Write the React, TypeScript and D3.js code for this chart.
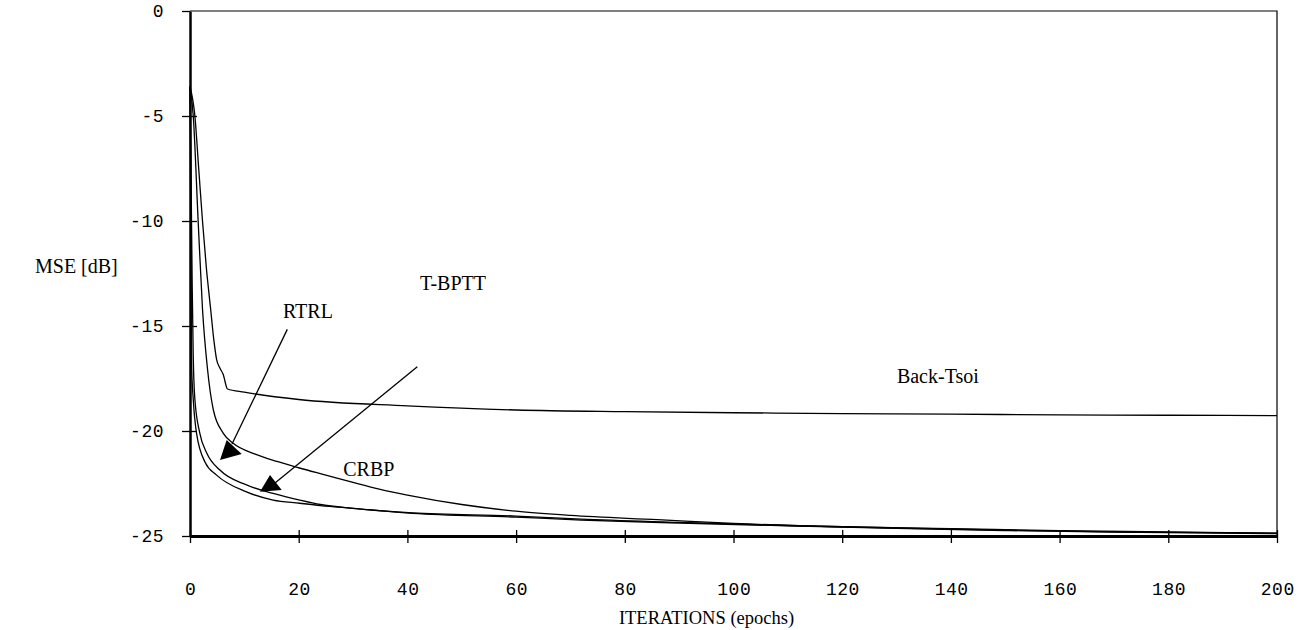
import { useEffect, useRef } from 'react'
import * as d3 from 'd3'

const WIDTH = 1301
const HEIGHT = 630
const LEFT = 190
const RIGHT = 1277
const TOP = 11
const BOTTOM = 536

const X_TICKS = [0, 20, 40, 60, 80, 100, 120, 140, 160, 180, 200]
const Y_TICKS = [0, -5, -10, -15, -20, -25]

// epochs / MSE
const backTsoiX = [0, 0.9, 1.6, 2.3, 3.0, 3.8, 4.4, 4.9, 5.5, 6.1, 6.9, 10, 20, 40, 60, 80, 100, 120, 140, 160, 180, 200]
const backTsoiY = [-3.6, -5, -7.5, -10, -12.2, -14.2, -15.7, -16.6, -17.0, -17.3, -18.0, -18.15, -18.5, -18.8, -19.0, -19.08, -19.13, -19.17, -19.2, -19.23, -19.25, -19.27]

const crbpX = [0, 0.6, 1.5, 2.3, 3.2, 4.3, 6.1, 8, 12, 16, 20, 25, 30, 35, 40, 50, 60, 70, 86, 100, 120, 140, 160, 180, 200]
const crbpY = [-3.6, -5, -10, -14.2, -17, -19.0, -20.1, -20.6, -21.1, -21.45, -21.75, -22.1, -22.45, -22.78, -23.05, -23.5, -23.82, -24.02, -24.22, -24.4, -24.56, -24.65, -24.74, -24.81, -24.87]

const rtrlX = [0, 0.2, 0.4, 0.6, 0.9, 1.8, 3.1, 5.5, 10.4, 15.3, 20.2, 24, 30, 41, 60, 72, 90, 110, 130, 150, 170, 200]
const rtrlY = [-3.6, -8, -13, -16.5, -18.5, -20.1, -21.06, -21.86, -22.57, -22.97, -23.29, -23.5, -23.68, -23.9, -24.05, -24.2, -24.35, -24.5, -24.62, -24.72, -24.8, -24.87]

const tbpttX = [0, 0.1, 0.2, 0.3, 0.6, 1.2, 2.8, 4.9, 10.4, 15.3, 20.2, 24, 30, 41, 60, 72, 90, 110, 130, 150, 170, 200]
const tbpttY = [-3.6, -8, -13, -16.9, -18.5, -20.1, -21.5, -22.1, -22.9, -23.29, -23.44, -23.55, -23.68, -23.92, -24.1, -24.24, -24.38, -24.52, -24.64, -24.74, -24.82, -24.89]

const SERIES = [
  { name: 'Back-Tsoi', xs: backTsoiX, ys: backTsoiY },
  { name: 'CRBP', xs: crbpX, ys: crbpY },
  { name: 'RTRL', xs: rtrlX, ys: rtrlY },
  { name: 'T-BPTT', xs: tbpttX, ys: tbpttY },
]

// labels: text, x, y (baseline)
const LABEL_TEXT = ['RTRL', 'T-BPTT', 'CRBP', 'Back-Tsoi']
const LABEL_X = [21.7, 48.4, 32.9, 137.6]
const LABEL_Y = [-14.6, -13.3, -22.15, -17.7]

// arrows: line start -> line end, head tip + two base corners (data units)
const ARROW_LINE = [
  [[17.9, -15.16], [7.73, -20.62]],
  [[41.82, -16.94], [15.64, -22.48]],
]
const ARROW_HEAD = [
  [[5.52, -21.38], [6.75, -20.43], [9.51, -21.1]],
  [[12.88, -22.89], [14.72, -22.1], [16.87, -22.81]],
]

export default function App() {
  const svgRef = useRef<SVGSVGElement>(null)

  useEffect(() => {
    const svg = d3.select(svgRef.current)
    svg.selectAll('*').remove()

    const x = d3.scaleLinear().domain([0, 200]).range([LEFT, RIGHT])
    const y = d3.scaleLinear().domain([-25, 0]).range([BOTTOM, TOP])

    // frame (top + right thin)
    svg.append('path')
      .attr('d', `M${LEFT},${TOP}H${RIGHT}V${BOTTOM}`)
      .attr('fill', 'none')
      .attr('stroke', '#000')
      .attr('stroke-width', 1.2)

    const line = d3.line<[number, number]>()
      .x((d) => x(d[0]))
      .y((d) => y(d[1]))
      .curve(d3.curveMonotoneX)

    for (const s of SERIES) {
      const pts = s.xs.map((v, i) => [v, s.ys[i]] as [number, number])
      svg.append('path')
        .datum(pts)
        .attr('d', line)
        .attr('fill', 'none')
        .attr('stroke', '#000')
        .attr('stroke-width', 1.3)
    }

    // left axis
    const yAxis = d3.axisLeft(y)
      .tickValues(Y_TICKS)
      .tickFormat((d) => String(d))
      .tickSize(8)
      .tickPadding(18)
      .tickSizeOuter(0)
    svg.append('g')
      .attr('transform', `translate(${LEFT},0)`)
      .call(yAxis)
      .call((g) => g.select('.domain').attr('stroke', '#000').attr('stroke-width', 2.5))
      .call((g) => g.selectAll('.tick line')
        .attr('x2', -8)
        .attr('x1', (d) => (d === 0 ? 0 : 7))
        .attr('stroke', '#000')
        .attr('stroke-width', 1.3))
      .call((g) => g.selectAll('.tick text')
        .attr('font-family', '"Liberation Mono", monospace')
        .attr('font-size', 18)
        .attr('letter-spacing', 0.5)
        .attr('fill', '#000'))

    // bottom axis
    const xAxis = d3.axisBottom(x)
      .tickValues(X_TICKS)
      .tickFormat((d) => String(d))
      .tickSize(7)
      .tickSizeOuter(0)
    svg.append('g')
      .attr('transform', `translate(0,${BOTTOM})`)
      .call(xAxis)
      .call((g) => g.select('.domain').attr('stroke', '#000').attr('stroke-width', 3))
      .call((g) => g.selectAll('.tick line')
        .attr('y1', -6)
        .attr('stroke', '#000')
        .attr('stroke-width', 1.3))
      .call((g) => g.selectAll('.tick text')
        .attr('y', 59)
        .attr('dy', 0)
        .attr('dx', 0.25)
        .attr('font-family', '"Liberation Mono", monospace')
        .attr('font-size', 18)
        .attr('letter-spacing', 0.5)
        .attr('fill', '#000'))

    // arrows
    ARROW_LINE.forEach(([a, b]) => {
      svg.append('line')
        .attr('x1', x(a[0])).attr('y1', y(a[1]))
        .attr('x2', x(b[0])).attr('y2', y(b[1]))
        .attr('stroke', '#000')
        .attr('stroke-width', 1.3)
    })
    ARROW_HEAD.forEach((tri) => {
      svg.append('polygon')
        .attr('points', tri.map((p) => `${x(p[0])},${y(p[1])}`).join(' '))
        .attr('fill', '#000')
    })

    // series labels
    LABEL_TEXT.forEach((t, i) => {
      svg.append('text')
        .attr('x', x(LABEL_X[i]))
        .attr('y', y(LABEL_Y[i]))
        .attr('text-anchor', 'middle')
        .attr('font-family', '"Liberation Serif", serif')
        .attr('font-size', 20)
        .attr('fill', '#000')
        .text(t)
    })

    // axis titles
    svg.append('text')
      .attr('x', 35)
      .attr('y', 273)
      .attr('font-family', '"Liberation Serif", serif')
      .attr('font-size', 20)
      .text('MSE [dB]')
    svg.append('text')
      .attr('x', (LEFT + RIGHT) / 2 - 27)
      .attr('y', 624)
      .attr('text-anchor', 'middle')
      .attr('font-family', '"Liberation Serif", serif')
      .attr('font-size', 18.5)
      .text('ITERATIONS (epochs)')
  }, [])

  return (
    <svg
      ref={svgRef}
      width={WIDTH}
      height={HEIGHT}
      style={{ position: 'absolute', left: 0, top: 0, background: '#fff' }}
    />
  )
}
